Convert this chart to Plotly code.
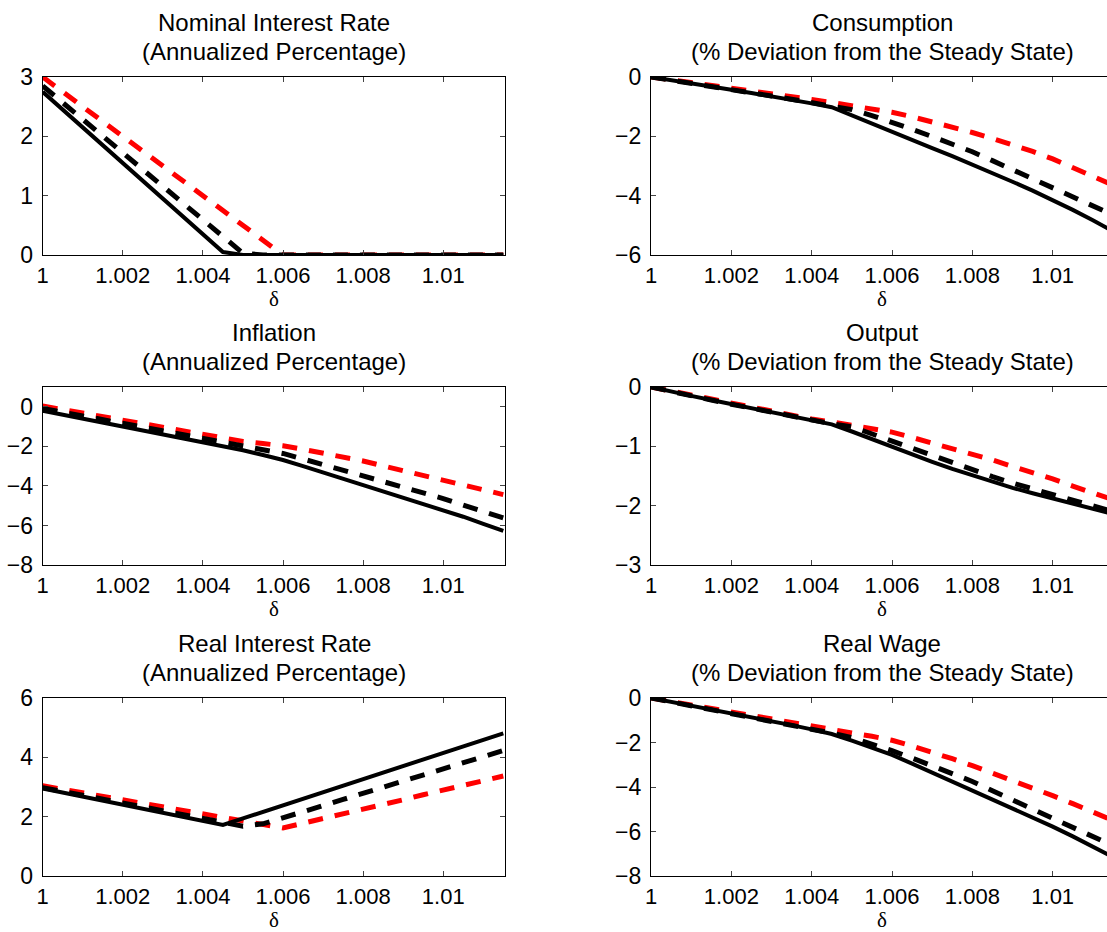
import plotly.graph_objects as go

# ---------------- data ----------------
delta = [1.0000, 1.0005, 1.0010, 1.0015, 1.0020, 1.0025, 1.0030, 1.0035,
         1.0040, 1.0045, 1.0050, 1.0055, 1.0060, 1.0065, 1.0070, 1.0075,
         1.0080, 1.0085, 1.0090, 1.0095, 1.0100, 1.0105, 1.0110, 1.0115]

x_tick_vals = [1.0, 1.002, 1.004, 1.006, 1.008, 1.01]
x_tick_text = ["1", "1.002", "1.004", "1.006", "1.008", "1.01"]

nominal_solid = [2.75, 2.45, 2.15, 1.85, 1.55, 1.25, 0.95, 0.65, 0.35, 0.05,
                 0, 0, 0, 0, 0, 0, 0, 0, 0, 0, 0, 0, 0, 0]
nominal_black = [2.85, 2.57, 2.29, 2.00, 1.72, 1.44, 1.16, 0.88, 0.59, 0.31,
                 0.03, 0, 0, 0, 0, 0, 0, 0, 0, 0, 0, 0, 0, 0]
nominal_red = [3.00, 2.75, 2.50, 2.25, 2.00, 1.75, 1.50, 1.25, 1.00, 0.75,
               0.50, 0.25, 0, 0, 0, 0, 0, 0, 0, 0, 0, 0, 0, 0]

cons_solid = [0, -0.10, -0.21, -0.32, -0.43, -0.54, -0.65, -0.77, -0.89, -1.02,
              -1.30, -1.58, -1.87, -2.13, -2.40, -2.67, -2.95, -3.24, -3.53, -3.83,
              -4.15, -4.48, -4.83, -5.20]
cons_black = [0, -0.10, -0.21, -0.31, -0.42, -0.53, -0.64, -0.75, -0.86, -0.98,
              -1.10, -1.30, -1.51, -1.76, -2.01, -2.26, -2.52, -2.82, -3.12, -3.43,
              -3.75, -4.05, -4.35, -4.65]
cons_red = [0, -0.09, -0.19, -0.28, -0.38, -0.47, -0.57, -0.67, -0.76, -0.86,
            -0.96, -1.07, -1.19, -1.34, -1.51, -1.68, -1.87, -2.07, -2.28, -2.51,
            -2.76, -3.04, -3.34, -3.64]

infl_solid = [-0.20, -0.40, -0.59, -0.78, -0.97, -1.17, -1.37, -1.57, -1.78, -1.98,
              -2.20, -2.44, -2.69, -3.00, -3.32, -3.64, -3.95, -4.27, -4.59, -4.91,
              -5.22, -5.56, -5.92, -6.28]
infl_black = [-0.08, -0.27, -0.46, -0.65, -0.84, -1.03, -1.23, -1.43, -1.63, -1.84,
              -2.02, -2.18, -2.36, -2.64, -2.92, -3.20, -3.48, -3.77, -4.06, -4.35,
              -4.64, -4.97, -5.30, -5.62]
infl_red = [0.04, -0.14, -0.32, -0.50, -0.68, -0.86, -1.04, -1.23, -1.43, -1.60,
            -1.75, -1.86, -1.97, -2.15, -2.34, -2.54, -2.74, -2.99, -3.24, -3.50,
            -3.75, -3.98, -4.21, -4.44]

out_solid = [0, -0.08, -0.15, -0.22, -0.29, -0.36, -0.43, -0.50, -0.56, -0.63,
             -0.75, -0.88, -1.01, -1.14, -1.26, -1.38, -1.49, -1.60, -1.70, -1.79,
             -1.88, -1.97, -2.06, -2.14]
out_black = [0, -0.08, -0.15, -0.22, -0.29, -0.36, -0.43, -0.49, -0.55, -0.62,
             -0.67, -0.79, -0.93, -1.05, -1.17, -1.29, -1.40, -1.51, -1.62, -1.72,
             -1.82, -1.92, -2.01, -2.10]
out_red = [0, -0.07, -0.14, -0.21, -0.28, -0.35, -0.42, -0.48, -0.54, -0.59,
           -0.64, -0.70, -0.76, -0.85, -0.94, -1.03, -1.13, -1.23, -1.34, -1.44,
           -1.55, -1.67, -1.79, -1.90]

real_solid = [2.95, 2.81, 2.68, 2.54, 2.40, 2.27, 2.13, 2.00, 1.86, 1.72,
              1.94, 2.16, 2.38, 2.60, 2.83, 3.05, 3.27, 3.49, 3.71, 3.93,
              4.15, 4.37, 4.59, 4.81]
real_black = [2.98, 2.85, 2.72, 2.59, 2.46, 2.33, 2.20, 2.07, 1.94, 1.81,
              1.68, 1.76, 1.95, 2.16, 2.37, 2.58, 2.79, 2.99, 3.19, 3.40,
              3.60, 3.81, 4.02, 4.23]
real_red = [3.04, 2.92, 2.80, 2.69, 2.57, 2.45, 2.33, 2.21, 2.09, 1.97,
            1.86, 1.74, 1.62, 1.78, 1.93, 2.08, 2.23, 2.40, 2.57, 2.74,
            2.90, 3.06, 3.21, 3.37]

wage_solid = [0, -0.17, -0.34, -0.51, -0.68, -0.86, -1.04, -1.22, -1.41, -1.62,
              -1.92, -2.22, -2.56, -2.95, -3.35, -3.75, -4.14, -4.55, -4.96, -5.37,
              -5.78, -6.22, -6.68, -7.15]
wage_black = [0, -0.17, -0.34, -0.51, -0.68, -0.86, -1.03, -1.21, -1.39, -1.58,
              -1.78, -2.05, -2.37, -2.70, -3.04, -3.39, -3.75, -4.17, -4.59, -5.02,
              -5.44, -5.84, -6.24, -6.64]
wage_red = [0, -0.16, -0.33, -0.49, -0.65, -0.82, -0.98, -1.14, -1.30, -1.45,
            -1.57, -1.72, -1.90, -2.16, -2.43, -2.73, -3.04, -3.37, -3.71, -4.05,
            -4.39, -4.75, -5.12, -5.50]

titles_top = ["Nominal Interest Rate", "Consumption", "Inflation",
              "Output", "Real Interest Rate", "Real Wage"]
titles_bottom = ["(Annualized Percentage)", "(% Deviation from the Steady State)",
                 "(Annualized Percentage)", "(% Deviation from the Steady State)",
                 "(Annualized Percentage)", "(% Deviation from the Steady State)"]
y_ranges = [(0, 3), (-6, 0), (-8, 1), (-3, 0), (0, 6), (-8, 0)]
y_dticks = [1, 2, 2, 1, 2, 2]

panels = [
    (nominal_solid, nominal_black, nominal_red),
    (cons_solid, cons_black, cons_red),
    (infl_solid, infl_black, infl_red),
    (out_solid, out_black, out_red),
    (real_solid, real_black, real_red),
    (wage_solid, wage_black, wage_red),
]

# ---------------- layout geometry (pixels) ----------------
W, H = 1107, 932
col_left = [(42.7, 505.3), (651.0, 1107.0)]
col_xmax = [1.01155, 1.011352]
row_tb = [(77, 255), (387, 565), (698, 876)]

FONT = "Liberation Sans, Arial, Helvetica, sans-serif"
SERIF = "Liberation Serif, Times New Roman, serif"

fig = go.Figure()
layout = dict(
    width=W, height=H, autosize=False,
    margin=dict(l=0, r=0, t=0, b=0, pad=0, autoexpand=False),
    paper_bgcolor="white", plot_bgcolor="white",
    showlegend=False,
    font=dict(family=FONT, size=22, color="black"),
)
annotations = []

for i, (solid, black, red) in enumerate(panels):
    r, c = divmod(i, 2)
    n = i + 1
    xa = f"x{n}" if n > 1 else "x"
    ya = f"y{n}" if n > 1 else "y"
    fig.add_trace(go.Scatter(x=delta, y=red, mode="lines", xaxis=xa, yaxis=ya,
                             line=dict(color="#ff0000", width=5, dash="15px,12px")))
    fig.add_trace(go.Scatter(x=delta, y=black, mode="lines", xaxis=xa, yaxis=ya,
                             line=dict(color="black", width=5, dash="15px,12px")))
    fig.add_trace(go.Scatter(x=delta, y=solid, mode="lines", xaxis=xa, yaxis=ya,
                             line=dict(color="black", width=4)))

    x0, x1 = col_left[c]
    t, b = row_tb[r]
    xdom = [x0 / W, x1 / W]
    ydom = [1 - b / H, 1 - t / H]
    kx = "xaxis" if n == 1 else f"xaxis{n}"
    ky = "yaxis" if n == 1 else f"yaxis{n}"
    layout[kx] = dict(
        domain=xdom, anchor=ya, range=[1.0, col_xmax[c]],
        tickmode="array", tickvals=x_tick_vals, ticktext=x_tick_text,
        ticks="inside", ticklen=5, tickcolor="#444", tickwidth=1,
        showline=True, linecolor="black", linewidth=1.3,
        mirror="ticks", showgrid=False, zeroline=False, automargin=False,
        tickfont=dict(family=FONT, size=22, color="black"),
        ticklabelstandoff=0,
    )
    layout[ky] = dict(
        domain=ydom, anchor=xa, range=list(y_ranges[i]),
        tick0=0, dtick=y_dticks[i],
        ticks="inside", ticklen=5, tickcolor="#444", tickwidth=1,
        showline=True, linecolor="black", linewidth=1.3,
        mirror=("ticks" if c == 0 else False), showgrid=False, zeroline=False,
        automargin=False,
        tickfont=dict(family=FONT, size=23, color="black"),
        ticklabelstandoff=4,
    )
    cx = (x0 + (x0 + 462.6)) / 2 / W
    annotations.append(dict(text=titles_top[i], x=cx, y=1 - (t - 55) / H,
                            xref="paper", yref="paper", showarrow=False,
                            xanchor="center", yanchor="middle",
                            font=dict(family=FONT, size=24, color="black")))
    annotations.append(dict(text=titles_bottom[i], x=cx, y=1 - (t - 26) / H,
                            xref="paper", yref="paper", showarrow=False,
                            xanchor="center", yanchor="middle",
                            font=dict(family=FONT, size=24, color="black")))
    annotations.append(dict(text="δ", x=cx, y=1 - (b + 44) / H,
                            xref="paper", yref="paper", showarrow=False,
                            xanchor="center", yanchor="middle",
                            font=dict(family=SERIF, size=21, color="black")))

layout["annotations"] = annotations
fig.update_layout(**layout)
fig.write_html("out.html")
